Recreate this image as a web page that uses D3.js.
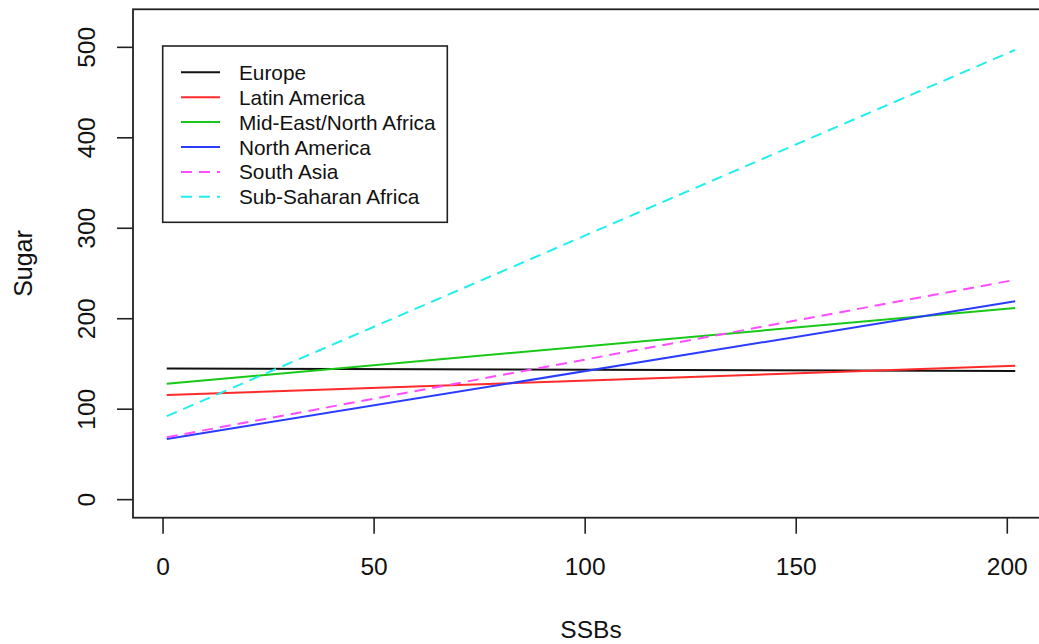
<!DOCTYPE html>
<html>
<head>
<meta charset="utf-8">
<script src="https://cdn.jsdelivr.net/npm/d3@7"></script>
<style>
  body { margin: 0; background: #fff; }
  svg { display: block; font-family: "Liberation Sans", Arial, Helvetica, sans-serif; }
</style>
</head>
<body>
<div id="chart"></div>
<script>
// data: fitted lines of Sugar vs SSBs, one per region
var regions = ["Europe", "Latin America", "Mid-East/North Africa", "North America", "South Asia", "Sub-Saharan Africa"];
var ssbs = [1, 202];                       // x at the two ends of each line
var sugarEurope = [144.5, 141.6];
var sugarLatinAmerica = [115, 147.5];
var sugarMidEast = [127.5, 211.4];
var sugarNorthAmerica = [66.5, 218.7];
var sugarSouthAsia = [68.5, 242.5];
var sugarSubSaharan = [91.7, 496.7];
var xTicks = [0, 50, 100, 150, 200];
var yTicks = [0, 100, 200, 300, 400, 500];

var sugarByRegion = [sugarEurope, sugarLatinAmerica, sugarMidEast, sugarNorthAmerica, sugarSouthAsia, sugarSubSaharan];

// styles (R base graphics look)
var lineColors = ["#111111", "#ff2a2a", "#18c818", "#2a3cff", "#ff4cff", "#22eeee"];
var lineDash = [null, null, null, null, "11,7", "11,7"];

var W = 1039, H = 644;
// plot box, right side runs a bit past the window like in the picture
var box = {left: 133, top: 9.3, right: 1049, bottom: 517.7};

var svg = d3.select("#chart").append("svg")
  .attr("width", W).attr("height", H);

// R pads the data range by 4% on each side
var x = d3.scaleLinear().domain([-7, 210]).range([box.left, box.right]);
var y = d3.scaleLinear().domain([-20.5, 541.5]).range([box.bottom, box.top]);

// x axis
var gx = svg.append("g")
  .attr("transform", "translate(0," + box.bottom + ")")
  .call(d3.axisBottom(x).tickValues(xTicks).tickSize(16).tickSizeOuter(0));
gx.select(".domain").remove();
gx.selectAll("line").attr("stroke", "#222").attr("stroke-width", 1.6);
gx.selectAll("text")
  .attr("y", 48.3).attr("dy", "0.36em")
  .attr("fill", "#111").style("font-size", "24.5px");

// y axis, labels turned like R does (las = 0)
var gy = svg.append("g")
  .attr("transform", "translate(" + box.left + ",0)")
  .call(d3.axisLeft(y).tickValues(yTicks).tickSize(16).tickSizeOuter(0));
gy.select(".domain").remove();
gy.selectAll("line").attr("stroke", "#222").attr("stroke-width", 1.6);
gy.selectAll("text")
  .attr("x", null).attr("y", null).attr("dy", "0.36em")
  .attr("text-anchor", "middle")
  .attr("transform", "translate(-46.5,0) rotate(-90)")
  .attr("fill", "#111").style("font-size", "24.5px");

// the lines
var line = d3.line()
  .x(function (d, i) { return x(ssbs[i]); })
  .y(function (d) { return y(d); });

svg.append("g").selectAll("path")
  .data(sugarByRegion)
  .enter().append("path")
  .attr("d", line)
  .attr("fill", "none")
  .attr("stroke", function (d, i) { return lineColors[i]; })
  .attr("stroke-width", 2)
  .attr("stroke-dasharray", function (d, i) { return lineDash[i]; });

// box round the plot
svg.append("rect")
  .attr("x", box.left).attr("y", box.top)
  .attr("width", box.right - box.left).attr("height", box.bottom - box.top)
  .attr("fill", "none").attr("stroke", "#222").attr("stroke-width", 1.8);

// axis titles
svg.append("text")
  .attr("x", (box.left + box.right) / 2).attr("y", 629.5).attr("dy", "0.36em")
  .attr("text-anchor", "middle").attr("fill", "#111").style("font-size", "24.5px")
  .text("SSBs");
svg.append("text")
  .attr("transform", "translate(22.5," + (box.top + box.bottom) / 2 + ") rotate(-90)")
  .attr("dy", "0.36em")
  .attr("text-anchor", "middle").attr("fill", "#111").style("font-size", "25px")
  .text("Sugar");

// legend
var leg = {left: 162.7, top: 46, width: 284.6, height: 176.3, row0: 72.3, rowStep: 24.9};
var lg = svg.append("g");
lg.append("rect")
  .attr("x", leg.left).attr("y", leg.top)
  .attr("width", leg.width).attr("height", leg.height)
  .attr("fill", "#fff").attr("stroke", "#222").attr("stroke-width", 1.6);

var items = lg.selectAll("g.item")
  .data(regions)
  .enter().append("g")
  .attr("class", "item")
  .attr("transform", function (d, i) { return "translate(0," + (leg.row0 + i * leg.rowStep) + ")"; });

items.append("line")
  .attr("x1", 181).attr("x2", 220).attr("y1", 0).attr("y2", 0)
  .attr("stroke", function (d, i) { return lineColors[i]; })
  .attr("stroke-width", 2)
  .attr("stroke-dasharray", function (d, i) { return lineDash[i]; });

items.append("text")
  .attr("x", 239).attr("dy", "0.36em")
  .attr("fill", "#111").style("font-size", "20.8px")
  .text(function (d) { return d; });
</script>
</body>
</html>
